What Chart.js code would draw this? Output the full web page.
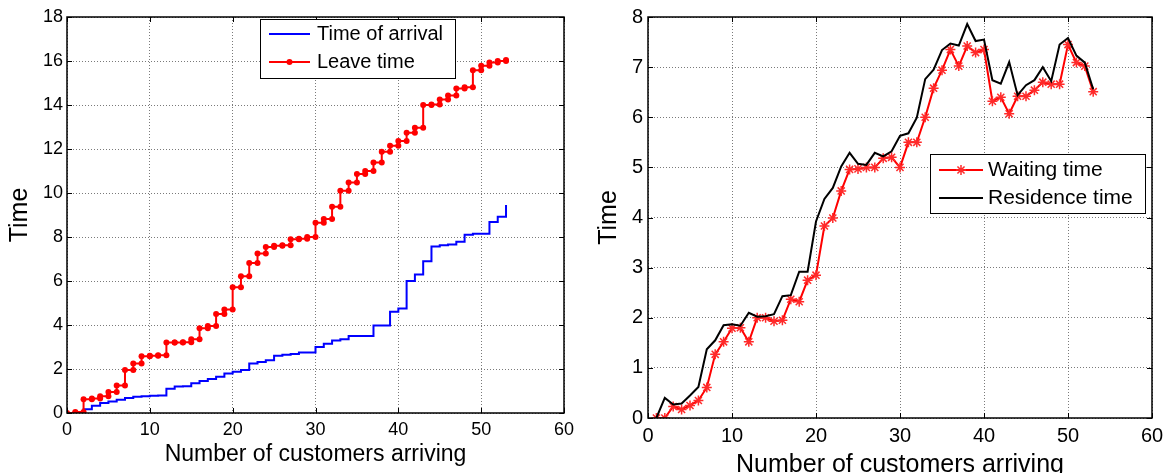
<!DOCTYPE html>
<html>
<head>
<meta charset="utf-8">
<script src="https://cdn.jsdelivr.net/npm/chart.js@4.4.0/dist/chart.umd.min.js"></script>
<style>
  body { margin: 0; background: #fff; }
  .panel { position: absolute; top: 0; width: 585px; height: 473px; }
</style>
</head>
<body>
<div class="panel" style="left:0"><canvas id="left" width="585" height="473"></canvas></div>
<div class="panel" style="left:585px"><canvas id="right" width="585" height="473"></canvas></div>
<script>
// left panel: arrival / leave time per customer (drawn as stairs)
const customersLeft = [0, 1, 2, 3, 4, 5, 6, 7, 8, 9, 10, 11, 12, 13, 14, 15, 16, 17, 18, 19, 20,
  21, 22, 23, 24, 25, 26, 27, 28, 29, 30, 31, 32, 33, 34, 35, 36, 37, 38, 39, 40,
  41, 42, 43, 44, 45, 46, 47, 48, 49, 50, 51, 52, 53];
const arrivalTime = [0, 0.05, 0.17, 0.33, 0.45, 0.52, 0.6, 0.68, 0.74, 0.76, 0.78, 0.8, 1.1, 1.2, 1.22,
  1.35, 1.45, 1.55, 1.65, 1.8, 1.88, 1.95, 2.25, 2.32, 2.4, 2.6, 2.65, 2.68, 2.75, 2.75,
  3.0, 3.15, 3.3, 3.35, 3.5, 3.5, 3.5, 3.98, 3.98, 4.6, 4.75, 6.0, 6.3, 6.9, 7.57,
  7.62, 7.66, 7.78, 8.1, 8.15, 8.15, 8.68, 8.92, 9.45];
const leaveTime = [0, 0.05, 0.62, 0.66, 0.76, 0.95, 1.25, 1.95, 2.25, 2.58, 2.6, 2.62, 3.2, 3.2, 3.22,
  3.35, 3.85, 3.95, 4.5, 4.7, 5.72, 6.22, 6.82, 7.25, 7.55, 7.6, 7.62, 7.9, 7.92, 8.0,
  8.65, 8.82, 9.38, 10.1, 10.48, 10.86, 11.0, 11.39, 11.88, 12.15, 12.36, 12.74, 12.97, 14.0, 14.02,
  14.25, 14.43, 14.75, 14.81, 15.58, 15.78, 15.93, 16.0, 16.04];

// right panel: waiting / residence time per customer
const customersRight = [1, 2, 3, 4, 5, 6, 7, 8, 9, 10, 11, 12, 13, 14, 15, 16, 17, 18, 19, 20,
  21, 22, 23, 24, 25, 26, 27, 28, 29, 30, 31, 32, 33, 34, 35, 36, 37, 38, 39, 40,
  41, 42, 43, 44, 45, 46, 47, 48, 49, 50, 51, 52, 53];
const waitingTime = [0, 0, 0.23, 0.17, 0.25, 0.35, 0.61, 1.27, 1.52, 1.79, 1.8, 1.52, 2.0, 2.0, 1.93,
  1.95, 2.37, 2.32, 2.75, 2.85, 3.83, 3.99, 4.53, 4.96, 4.97, 5.0, 5.0, 5.18, 5.2, 5.0,
  5.5, 5.5, 6.0, 6.58, 6.94, 7.35, 7.02, 7.42, 7.29, 7.35, 6.32, 6.4, 6.07, 6.42, 6.42,
  6.54, 6.7, 6.66, 6.66, 7.45, 7.09, 7.02, 6.51];
const residenceTime = [0, 0.4, 0.27, 0.29, 0.45, 0.62, 1.37, 1.55, 1.85, 1.87, 1.84, 2.1, 2.02, 2.03, 2.07,
  2.43, 2.45, 2.92, 2.92, 3.92, 4.37, 4.59, 5.02, 5.29, 5.07, 5.05, 5.29, 5.22, 5.32, 5.63,
  5.68, 5.99, 6.76, 6.95, 7.34, 7.47, 7.43, 7.86, 7.52, 7.55, 6.74, 6.67, 7.1, 6.44, 6.64,
  6.74, 7.0, 6.72, 7.45, 7.58, 7.23, 7.09, 6.56];

const xTicks = [0, 10, 20, 30, 40, 50, 60];
const yTicksLeft = [0, 2, 4, 6, 8, 10, 12, 14, 16, 18];
const yTicksRight = [0, 1, 2, 3, 4, 5, 6, 7, 8];

const family = '"Liberation Sans", Arial, sans-serif';

// matlab style stairs: corner points at every step
function stairs(xs, ys) {
  const pts = [];
  for (let i = 0; i < xs.length; i++) {
    pts.push({x: xs[i], y: ys[i]});
    if (i < xs.length - 1) pts.push({x: xs[i + 1], y: ys[i]});
  }
  return pts;
}

function points(xs, ys) {
  return xs.map((x, i) => ({x: x, y: ys[i]}));
}

// box round the plot with inward tick marks
const matlabFrame = {
  id: 'matlabFrame',
  afterDatasetsDraw(chart) {
    const {ctx, chartArea: a, scales} = chart;
    ctx.save();
    ctx.strokeStyle = '#000';
    ctx.lineWidth = 1;
    ctx.beginPath();
    scales.x.ticks.forEach(t => {
      const px = Math.round(scales.x.getPixelForValue(t.value)) + 0.5;
      ctx.moveTo(px, a.bottom); ctx.lineTo(px, a.bottom - 5);
      ctx.moveTo(px, a.top); ctx.lineTo(px, a.top + 5);
    });
    scales.y.ticks.forEach(t => {
      const py = Math.round(scales.y.getPixelForValue(t.value)) + 0.5;
      ctx.moveTo(a.left, py); ctx.lineTo(a.left + 5, py);
      ctx.moveTo(a.right, py); ctx.lineTo(a.right - 5, py);
    });
    ctx.stroke();
    ctx.lineWidth = 1.5;
    ctx.strokeRect(a.left, a.top, a.right - a.left, a.bottom - a.top);
    ctx.restore();
  }
};

function boxLegend(cfg) {
  return {
    id: 'boxLegend',
    afterDraw(chart) {
      const ctx = chart.ctx;
      ctx.save();
      ctx.fillStyle = '#fff';
      ctx.fillRect(cfg.left, cfg.top, cfg.width, cfg.height);
      ctx.strokeStyle = '#000';
      ctx.lineWidth = 1;
      ctx.strokeRect(cfg.left + 0.5, cfg.top + 0.5, cfg.width, cfg.height);
      cfg.rows.forEach(row => {
        const ds = chart.data.datasets[row.dataset];
        ctx.strokeStyle = ds.borderColor;
        ctx.lineWidth = ds.borderWidth;
        ctx.beginPath();
        ctx.moveTo(cfg.lineFrom, row.y);
        ctx.lineTo(cfg.lineTo, row.y);
        ctx.stroke();
        if (ds.pointRadius) {
          ctx.fillStyle = ds.pointBackgroundColor;
          ctx.strokeStyle = ds.pointBorderColor;
          ctx.lineWidth = ds.pointBorderWidth;
          Chart.helpers.drawPoint(ctx, {pointStyle: ds.pointStyle, radius: ds.pointRadius,
            borderWidth: ds.pointBorderWidth, rotation: 0}, (cfg.lineFrom + cfg.lineTo) / 2, row.y);
        }
        ctx.fillStyle = '#000';
        ctx.font = cfg.size + 'px ' + family;
        ctx.textBaseline = 'middle';
        ctx.textAlign = 'left';
        ctx.fillText(ds.label, cfg.textX, row.y);
      });
      ctx.restore();
    }
  };
}

function makeOptions(c) {
  return {
    responsive: false,
    animation: false,
    events: [],
    layout: {padding: {top: c.top, right: c.right, left: 0, bottom: 0}},
    plugins: {legend: {display: false}, tooltip: {enabled: false}},
    scales: {
      x: {
        type: 'linear', min: 0, max: 60,
        afterBuildTicks: s => { s.ticks = xTicks.map(v => ({value: v})); },
        afterFit: s => { s.height = c.xHeight; },
        ticks: {color: '#000', font: {family: family, size: c.tickSize}, padding: c.xPad, maxRotation: 0},
        grid: {color: '#7a7a7a', lineWidth: 1, drawTicks: false},
        border: {display: false, dash: [1, 2]},
        title: {display: true, text: 'Number of customers arriving', color: '#000',
          font: {family: family, size: c.xTitleSize, lineHeight: c.xTitleLH},
          padding: {top: 0, bottom: c.xTitlePad}}
      },
      y: {
        type: 'linear', min: 0, max: c.yMax,
        afterBuildTicks: s => { s.ticks = c.yTicks.map(v => ({value: v})); },
        afterFit: s => { s.width = c.yWidth; },
        ticks: {color: '#000', font: {family: family, size: c.tickSize}, padding: c.yPad},
        grid: {color: '#7a7a7a', lineWidth: 1, drawTicks: false},
        border: {display: false, dash: [1, 2]},
        title: {display: true, text: 'Time', color: '#000',
          font: {family: family, size: 25, lineHeight: 1.2},
          padding: {top: c.yTitlePad, bottom: 0}}
      }
    }
  };
}

new Chart(document.getElementById('left'), {
  type: 'scatter',
  data: {
    datasets: [{
      label: 'Time of arrival',
      data: stairs(customersLeft, arrivalTime),
      showLine: true,
      borderColor: '#0000ff',
      borderWidth: 2,
      pointRadius: 0,
      order: 1
    }, {
      label: 'Leave time',
      data: stairs(customersLeft, leaveTime),
      showLine: true,
      borderColor: '#ff0000',
      borderWidth: 2,
      pointStyle: 'circle',
      pointRadius: 3,
      pointBackgroundColor: '#ff0000',
      pointBorderColor: '#ff0000',
      pointBorderWidth: 0,
      order: 0
    }]
  },
  options: makeOptions({top: 17, right: 21, xHeight: 60, yWidth: 67, yMax: 18, yTicks: yTicksLeft,
    tickSize: 18, xPad: 6, yPad: 4, xTitleSize: 23, xTitleLH: 1.2, xTitlePad: 5, yTitlePad: 5}),
  plugins: [matlabFrame, boxLegend({left: 260, top: 19, width: 195, height: 59,
    lineFrom: 269, lineTo: 310, textX: 317, size: 20,
    rows: [{dataset: 0, y: 34}, {dataset: 1, y: 62}]})]
});

new Chart(document.getElementById('right'), {
  type: 'scatter',
  data: {
    datasets: [{
      label: 'Waiting time',
      data: points(customersRight, waitingTime),
      showLine: true,
      borderColor: '#ff0000',
      borderWidth: 2,
      pointStyle: 'star',
      pointRadius: 5,
      pointBackgroundColor: '#ff0000',
      pointBorderColor: '#ff2a2a',
      pointBorderWidth: 1.5,
      order: 1
    }, {
      label: 'Residence time',
      data: points(customersRight, residenceTime),
      showLine: true,
      borderColor: '#000000',
      borderWidth: 2,
      pointRadius: 0,
      order: 0
    }]
  },
  options: makeOptions({top: 16, right: 18, xHeight: 55, yWidth: 63, yMax: 8, yTicks: yTicksRight,
    tickSize: 20, xPad: 6, yPad: 5, xTitleSize: 25, xTitleLH: 0.5, xTitlePad: 2, yTitlePad: 9}),
  plugins: [matlabFrame, boxLegend({left: 345, top: 154, width: 215, height: 59,
    lineFrom: 354, lineTo: 398, textX: 403, size: 21,
    rows: [{dataset: 0, y: 170}, {dataset: 1, y: 198}]})]
});
</script>
</body>
</html>
